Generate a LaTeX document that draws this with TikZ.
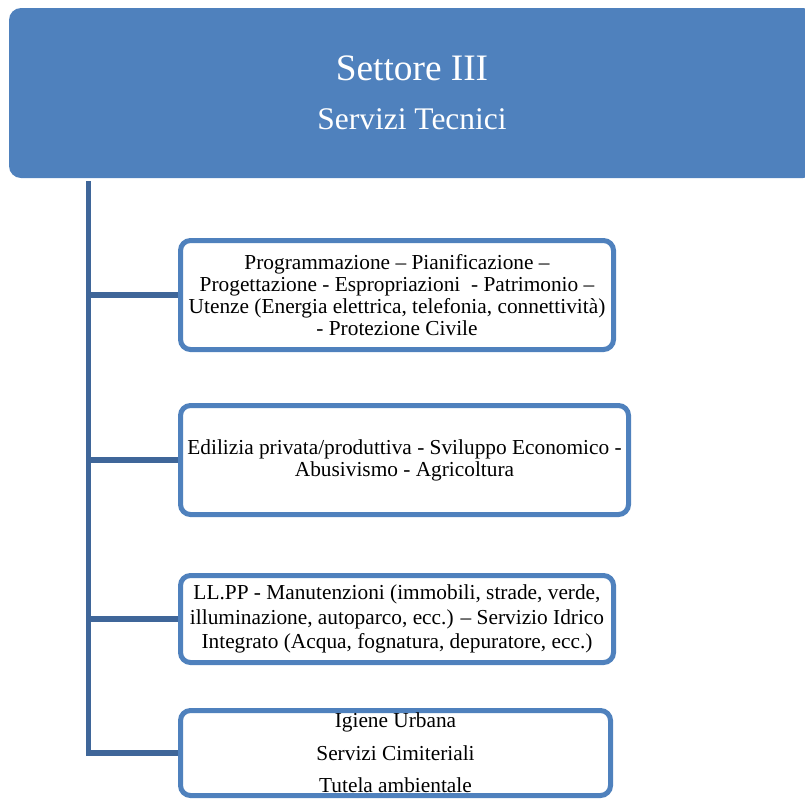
\documentclass[tikz,border=0pt]{standalone}
\usepackage{fontspec}
\setmainfont{Liberation Serif}
\usetikzlibrary{backgrounds}
\definecolor{settoreblue}{HTML}{4F81BD}
\definecolor{trunkblue}{HTML}{3F6699}
\tikzset{
  headbox/.style={fill=settoreblue, rounded corners=9pt, text=white, align=center, minimum width=604.5pt, minimum height=127.5pt, font=\fontsize{23.6}{36.75}\selectfont},
  unitbox/.style={draw=settoreblue, fill=white, line width=3.75pt, rounded corners=7.5pt, align=center, inner sep=0pt, font=\fontsize{16}{16.5}\selectfont},
  branch/.style={trunkblue, line width=4.1pt}
}
\begin{document}
\begin{tikzpicture}[x=0.75pt, y=-0.75pt]
  \useasboundingbox (0,0) rectangle (805,800);
  \node[headbox] (settore) at (412,93) {{\fontsize{28}{36.75}\selectfont Settore III}\\Servizi Tecnici};
  \node[unitbox, minimum width=324.75pt, minimum height=81.75pt] (programmazione) at (397,295)
    {Programmazione – Pianificazione –\\Progettazione - Espropriazioni \ - Patrimonio –\\Utenze (Energia elettrica, telefonia, connettività)\\- Protezione Civile};
  \node[unitbox, minimum width=336pt, minimum height=81.75pt] (edilizia) at (404.5,460)
    {Edilizia privata/produttiva - Sviluppo Economico -\\Abusivismo - Agricoltura};
  \node[unitbox, minimum width=324.75pt, minimum height=65.25pt, font=\fontsize{16}{18.4}\selectfont] (llpp) at (397,619)
    {LL.PP - Manutenzioni (immobili, strade, verde,\\illuminazione, autoparco, ecc.) – Servizio Idrico\\Integrato (Acqua, fognatura, depuratore, ecc.)};
  \node[unitbox, minimum width=322.5pt, minimum height=63.75pt, font=\fontsize{16}{24.4}\selectfont] (igiene) at (395.5,753)
    {Igiene Urbana\\Servizi Cimiteriali\\Tutela ambientale};
  % tronco e rami
  \coordinate (stem) at (88.5,181);
  \begin{scope}[on background layer]
    \draw[branch] (stem) |- (igiene.west);
    \foreach \unit in {programmazione,edilizia,llpp}
      \draw[branch] (stem |- \unit.west) -- (\unit.west);
  \end{scope}
\end{tikzpicture}
\end{document}
